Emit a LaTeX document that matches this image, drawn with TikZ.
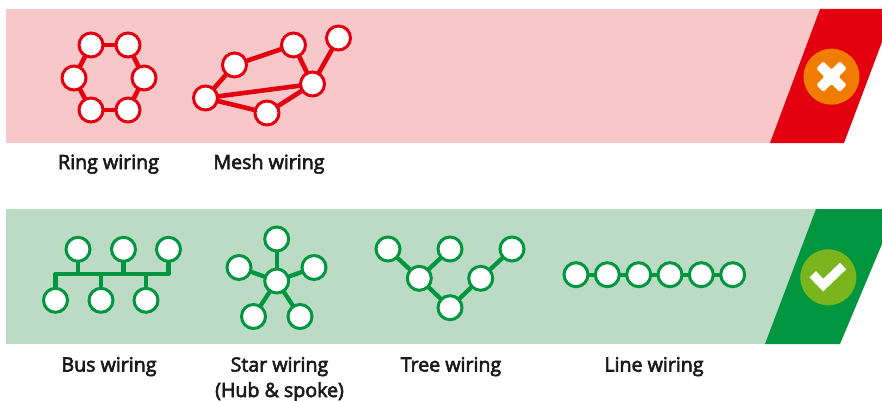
\documentclass[tikz,border=0pt]{standalone}
\usepackage{fontspec}
\setmainfont{Open Sans}[FakeBold=3]
\definecolor{badColor}{RGB}{227,0,15}
\definecolor{badBack}{RGB}{248,199,201}
\definecolor{badDot}{RGB}{240,125,0}
\definecolor{goodColor}{RGB}{0,150,64}
\definecolor{goodBack}{RGB}{187,219,196}
\definecolor{goodDot}{RGB}{122,181,29}
\definecolor{labelColor}{RGB}{26,26,30}
\tikzset{
  badnode/.style={circle,draw=badColor,fill=white,line width=3pt,minimum size=24pt,inner sep=0pt,outer sep=0pt},
  goodnode/.style={circle,draw=goodColor,fill=white,line width=3pt,minimum size=24pt,inner sep=0pt,outer sep=0pt},
  badwire/.style={draw=badColor,line width=4.6pt},
  goodwire/.style={draw=goodColor,line width=4.3pt},
  wirelabel/.style={text=labelColor,anchor=base,inner sep=0pt,outer sep=0pt,font=\fontsize{19.6pt}{22pt}\selectfont}
}
\begin{document}
\begin{tikzpicture}[x=1pt,y=1pt]
\path[use as bounding box,fill=white] (0,0) rectangle (882,400);

% red band
\path[fill=badBack] (  5.5,391) rectangle (830,257);
\path[fill=badColor] (820,391) -- (882,391) -- (882,358) -- (844,257) -- (770,257) -- cycle;
\path[fill=badDot] (831.5,323.3) circle (28);
\begin{scope}[shift={(831.5,323.3)},rotate=45]
\path[fill=white,rounded corners=1.5pt] (-5,-16.6) -- (5,-16.6) -- (5,-5) -- (16.6,-5) -- (16.6,5) -- (5,5) --
	(5,16.6) -- (-5,16.6) -- (-5,5) -- (-16.6,5) -- (-16.6,-5) -- (-5,-5) -- cycle;
\end{scope}

% green band
\path[fill=goodBack] (  5.5,191) rectangle (826,56);
\path[fill=goodColor] (816,191) -- (882,191) -- (882,156) -- (840,56) -- (765,56) -- cycle;
\path[fill=goodDot] (828.3,122.7) circle (28);
\path[draw=white,line width=9pt] (812.7,125.7) -- (823.3,115) -- (843,134);

% ring wiring
\node[badnode] (ring1) at ( 91,355) {};
\node[badnode] (ring2) at (128,355) {};
\node[badnode] (ring3) at (144,322) {};
\node[badnode] (ring4) at (128,290) {};
\node[badnode] (ring5) at ( 91,290) {};
\node[badnode] (ring6) at ( 74,322) {};
\path[badwire] (ring1) -- (ring2);
\path[badwire] (ring2) -- (ring3);
\path[badwire] (ring3) -- (ring4);
\path[badwire] (ring4) -- (ring5);
\path[badwire] (ring5) -- (ring6);
\path[badwire] (ring6) -- (ring1);

% mesh wiring
\node[badnode] (mesh1) at (205.5,302) {};
\node[badnode] (mesh2) at (234.5,335) {};
\node[badnode] (mesh3) at (293.5,355) {};
\node[badnode] (mesh4) at (338.5,362) {};
\node[badnode] (mesh5) at (312.5,316) {};
\node[badnode] (mesh6) at (267,287) {};
\path[badwire] (mesh1) -- (mesh2);
\path[badwire] (mesh2) -- (mesh3);
\path[badwire] (mesh3) -- (mesh5);
\path[badwire] (mesh5) -- (mesh4);
\path[badwire] (mesh1) -- (mesh5);
\path[badwire] (mesh1) -- (mesh6);
\path[badwire] (mesh6) -- (mesh5);

% bus wiring
\node[goodnode] (bus1) at ( 78,150.7) {};
\node[goodnode] (bus2) at (123.5,150.7) {};
\node[goodnode] (bus3) at (168.5,150.7) {};
\node[goodnode] (bus4) at ( 55.5,99.7) {};
\node[goodnode] (bus5) at (101,99.7) {};
\node[goodnode] (bus6) at (146,99.7) {};
\coordinate (busleft) at (55.5,126);
\coordinate (busright) at (168.5,126);
\path[goodwire,line join=round] (bus4) |- (busright) -- (bus3);
\path[goodwire] (bus1) -- (bus1 |- busleft);
\path[goodwire] (bus2) -- (bus2 |- busleft);
\path[goodwire] (bus5) -- (bus5 |- busleft);
\path[goodwire] (bus6) -- (bus6 |- busleft);

% star wiring
\node[goodnode] (hub) at (276.7,119) {};
\node[goodnode] (star1) at (276.7,161) {};
\node[goodnode] (star2) at (314,132.5) {};
\node[goodnode] (star3) at (300,83.5) {};
\node[goodnode] (star4) at (253.5,83.5) {};
\node[goodnode] (star5) at (239,132.5) {};
\path[goodwire] (hub) -- (star1);
\path[goodwire] (hub) -- (star2);
\path[goodwire] (hub) -- (star3);
\path[goodwire] (hub) -- (star4);
\path[goodwire] (hub) -- (star5);

% tree wiring
\node[goodnode] (tree1) at (388,151) {};
\node[goodnode] (tree2) at (450,151) {};
\node[goodnode] (tree3) at (512,151) {};
\node[goodnode] (tree4) at (419.3,121.7) {};
\node[goodnode] (tree5) at (480.7,121.7) {};
\node[goodnode] (tree6) at (450,92.3) {};
\path[goodwire] (tree1) -- (tree4);
\path[goodwire] (tree2) -- (tree4);
\path[goodwire] (tree4) -- (tree6);
\path[goodwire] (tree6) -- (tree5);
\path[goodwire] (tree5) -- (tree3);

% line wiring
\node[goodnode] (line1) at (576,125.3) {};
\node[goodnode] (line2) at (607.3,125.3) {};
\node[goodnode] (line3) at (638.7,125.3) {};
\node[goodnode] (line4) at (670,125.3) {};
\node[goodnode] (line5) at (701.3,125.3) {};
\node[goodnode] (line6) at (732.7,125.3) {};
\path[goodwire] (line1) -- (line2);
\path[goodwire] (line2) -- (line3);
\path[goodwire] (line3) -- (line4);
\path[goodwire] (line4) -- (line5);
\path[goodwire] (line5) -- (line6);

% labels
\node[wirelabel] (ringlabel) at (108.5,231) {Ring wiring};
\node[wirelabel] (meshlabel) at (269,231) {Mesh wiring};
\node[wirelabel] (buslabel) at (109,28.5) {Bus wiring};
\node[wirelabel] (starlabel) at (279.5,28.5) {Star wiring};
\node[wirelabel] (hublabel) at (279.5,3) {(Hub \& spoke)};
\node[wirelabel] (treelabel) at (451,28.5) {Tree wiring};
\node[wirelabel] (linelabel) at (654,28.5) {Line wiring};
\end{tikzpicture}
\end{document}
